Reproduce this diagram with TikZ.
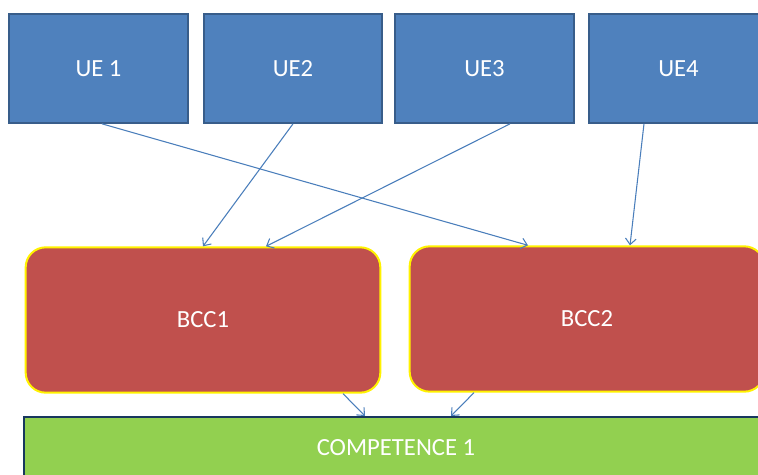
\documentclass[tikz,border=0pt]{standalone}
\usepackage{fontspec}
\setmainfont{Carlito}
\usetikzlibrary{calc,arrows.meta}
\definecolor{uefill}{HTML}{4F81BD}
\definecolor{ueline}{HTML}{385D8A}
\definecolor{bccfill}{HTML}{C0504D}
\definecolor{compfill}{HTML}{92D050}
\definecolor{compline}{HTML}{17375E}
\definecolor{arrowcol}{HTML}{4A7EBB}
\tikzset{
  ue/.style={draw=ueline, line width=1.5pt, fill=uefill, text=white,
    minimum width=134pt, minimum height=81.5pt, inner sep=0pt},
  bcc/.style={draw=yellow, line width=1.5pt, fill=bccfill, text=white,
    rounded corners=15pt, minimum width=266pt, minimum height=109pt, inner sep=0pt},
  comp/.style={draw=compline, line width=1.5pt, fill=compfill, text=white,
    minimum width=558pt, minimum height=46.5pt, inner sep=0pt},
  link/.style={draw=arrowcol, line width=0.8pt, -{Straight Barb[length=4.5pt,width=8pt]}}
}
\begin{document}
\begin{tikzpicture}[x=0.75pt, y=-0.75pt, font=\fontsize{18.5}{22}\selectfont]
\useasboundingbox (0,0) rectangle (758,475);
\clip (0,0) rectangle (758,475);
\node[ue] (ue1) at (98.5,68.5) {UE 1};
\node[ue] (ue2) at (293,68.5) {UE2};
\node[ue] (ue3) at (484.5,68.5) {UE3};
\node[ue] (ue4) at (678.5,68.5) {UE4};

\node[bcc] (bcc1) at (203,320) {BCC1};
\node[bcc] (bcc2) at (587,319) {BCC2};

\node[comp] (comp) at (396,448) {COMPETENCE 1};

\draw[link] ($(ue1.south)+(3.5,0)$) -- ($(bcc2.north)+(-59,0)$);
\draw[link] (ue2.south) -- (bcc1.north);
\draw[link] ($(ue3.south)+(25.5,0)$) -- ($(bcc1.north)+(63,0)$);
\draw[link] ($(ue4.south)+(-34.5,0)$) -- ($(bcc2.north)+(43,0)$);
\draw[link] ($(bcc1.south)+(140,0)$) -- ($(comp.north)+(-31,0)$);
\draw[link] ($(bcc2.south)+(-113,0)$) -- ($(comp.north)+(55,0)$);
\end{tikzpicture}
\end{document}
